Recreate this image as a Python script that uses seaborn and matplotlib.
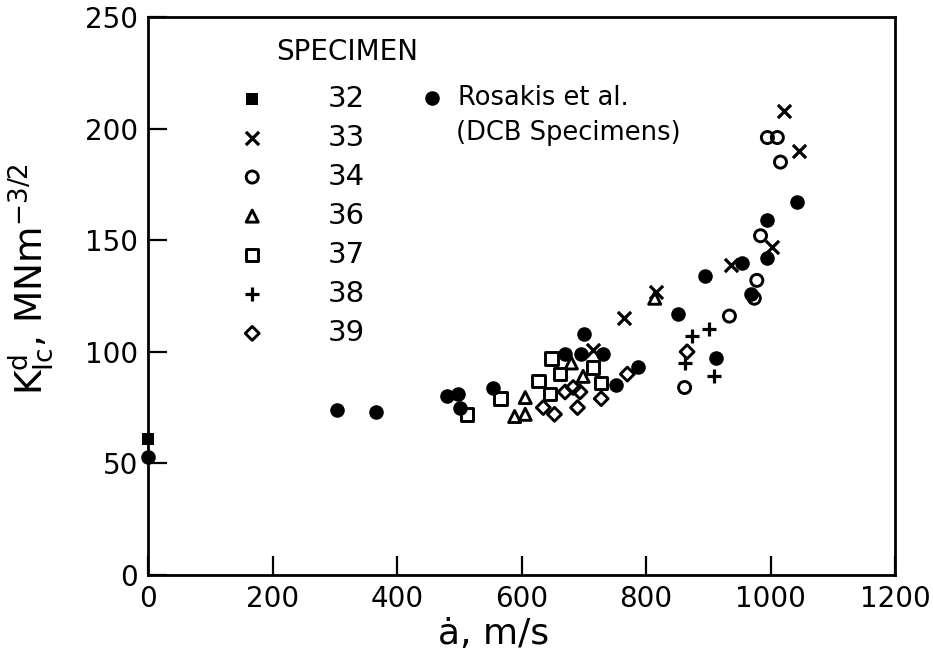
import matplotlib
matplotlib.use("Agg")
import matplotlib.pyplot as plt
import seaborn as sns

# Rosakis et al. (DCB specimens) - filled circles
rosakis_a = [0, 304, 366, 480, 498, 501, 555, 670, 696, 701, 731, 752, 787,
             851, 894, 912, 955, 968, 995, 995, 1043]
rosakis_k = [53, 74, 73, 80, 81, 75, 84, 99, 99, 108, 99, 85, 93,
             117, 134, 97, 140, 126, 142, 159, 167]

# specimens (crack speed m/s, K_Ic^d MNm^-3/2)
spec32_a = [0]
spec32_k = [61]
spec33_a = [715, 765, 816, 937, 1003, 1022, 1046]
spec33_k = [101, 115, 127, 139, 147, 208, 190]
spec34_a = [862, 934, 974, 978, 984, 995, 1011, 1016]
spec34_k = [84, 116, 124, 132, 152, 196, 196, 185]
spec36_a = [589, 606, 606, 680, 699, 814]
spec36_k = [71, 72, 79.5, 95, 89, 124]
spec37_a = [512, 566, 627, 646, 648, 662, 715, 728]
spec37_k = [72, 79, 87, 81, 97, 90, 93, 86]
spec38_a = [862, 874, 901, 909]
spec38_k = [95, 107, 110, 89]
spec39_a = [635, 653, 670, 683, 690, 694, 728, 770, 866]
spec39_k = [75, 72, 82, 84, 75, 82, 79, 90, 100]

specimens = [
    ("32", spec32_a, spec32_k, dict(marker="s", s=85, color="black", edgecolor="black", linewidth=0)),
    ("33", spec33_a, spec33_k, dict(marker="x", s=90, color="black", linewidth=2.3)),
    ("34", spec34_a, spec34_k, dict(marker="o", s=75, facecolor="none", edgecolor="black", linewidth=2.1)),
    ("36", spec36_a, spec36_k, dict(marker="^", s=75, facecolor="none", edgecolor="black", linewidth=2.1)),
    ("37", spec37_a, spec37_k, dict(marker="s", s=80, facecolor="none", edgecolor="black", linewidth=2.1)),
    ("38", spec38_a, spec38_k, dict(marker="+", s=110, color="black", linewidth=2.3)),
    ("39", spec39_a, spec39_k, dict(marker="D", s=50, facecolor="none", edgecolor="black", linewidth=2.1)),
]

sns.set_theme(style="ticks")
plt.rcParams["font.family"] = ["DejaVu Sans"]
plt.rcParams["mathtext.fontset"] = "dejavusans"
plt.rcParams["text.color"] = "black"
plt.rcParams["axes.labelcolor"] = "black"

fig, ax = plt.subplots(figsize=(9.33, 6.57), dpi=100)
fig.subplots_adjust(left=148 / 933, right=895 / 933, bottom=82 / 657, top=640 / 657)

# Rosakis data first
sns.scatterplot(x=rosakis_a, y=rosakis_k, marker="o", s=110, color="black",
                edgecolor="black", linewidth=0, ax=ax, legend=False, zorder=3,
                clip_on=False)
rosakis_handle = ax.collections[-1]

spec_handles = []
for name, a, k, style in specimens:
    sns.scatterplot(x=a, y=k, ax=ax, legend=False, zorder=3, clip_on=False, **style)
    spec_handles.append(ax.collections[-1])

ax.set_xlim(0, 1200)
ax.set_ylim(0, 250)
ax.set_xticks(range(0, 1201, 200))
ax.set_yticks(range(0, 251, 50))
ax.tick_params(direction="in", length=14, width=1.6, labelsize=20, pad=7,
               colors="black")
for sp in ax.spines.values():
    sp.set_linewidth(2.0)
    sp.set_color("black")

ax.set_xlabel("ȧ, m/s", fontsize=26)
ax.xaxis.set_label_coords(0.463, -0.075)
ax.set_ylabel(r"$\mathrm{K}_{\mathrm{Ic}}^{\mathrm{d}}$, MNm$^{-3/2}$", fontsize=27)
ax.yaxis.set_label_coords(-0.125, 0.53)

# specimen key
ax.text(0.171, 0.937, "SPECIMEN", transform=ax.transAxes, fontsize=20,
        ha="left", va="center")
leg1 = ax.legend(spec_handles, [s[0] for s in specimens], loc="upper left",
                 bbox_to_anchor=(0.12, 0.879), frameon=False, fontsize=21,
                 handlelength=1.0, handletextpad=2.1, labelspacing=0.38,
                 borderpad=0, borderaxespad=0)
ax.add_artist(leg1)

leg2 = ax.legend([rosakis_handle], ["Rosakis et al."], loc="center left",
                 bbox_to_anchor=(0.363, 0.855), frameon=False, fontsize=18.5,
                 handlelength=1.0, handletextpad=0.5, borderpad=0, borderaxespad=0)
ax.text(0.412, 0.792, "(DCB Specimens)", transform=ax.transAxes,
        fontsize=18.5, ha="left", va="center")

fig.savefig("out.png", dpi=100)
